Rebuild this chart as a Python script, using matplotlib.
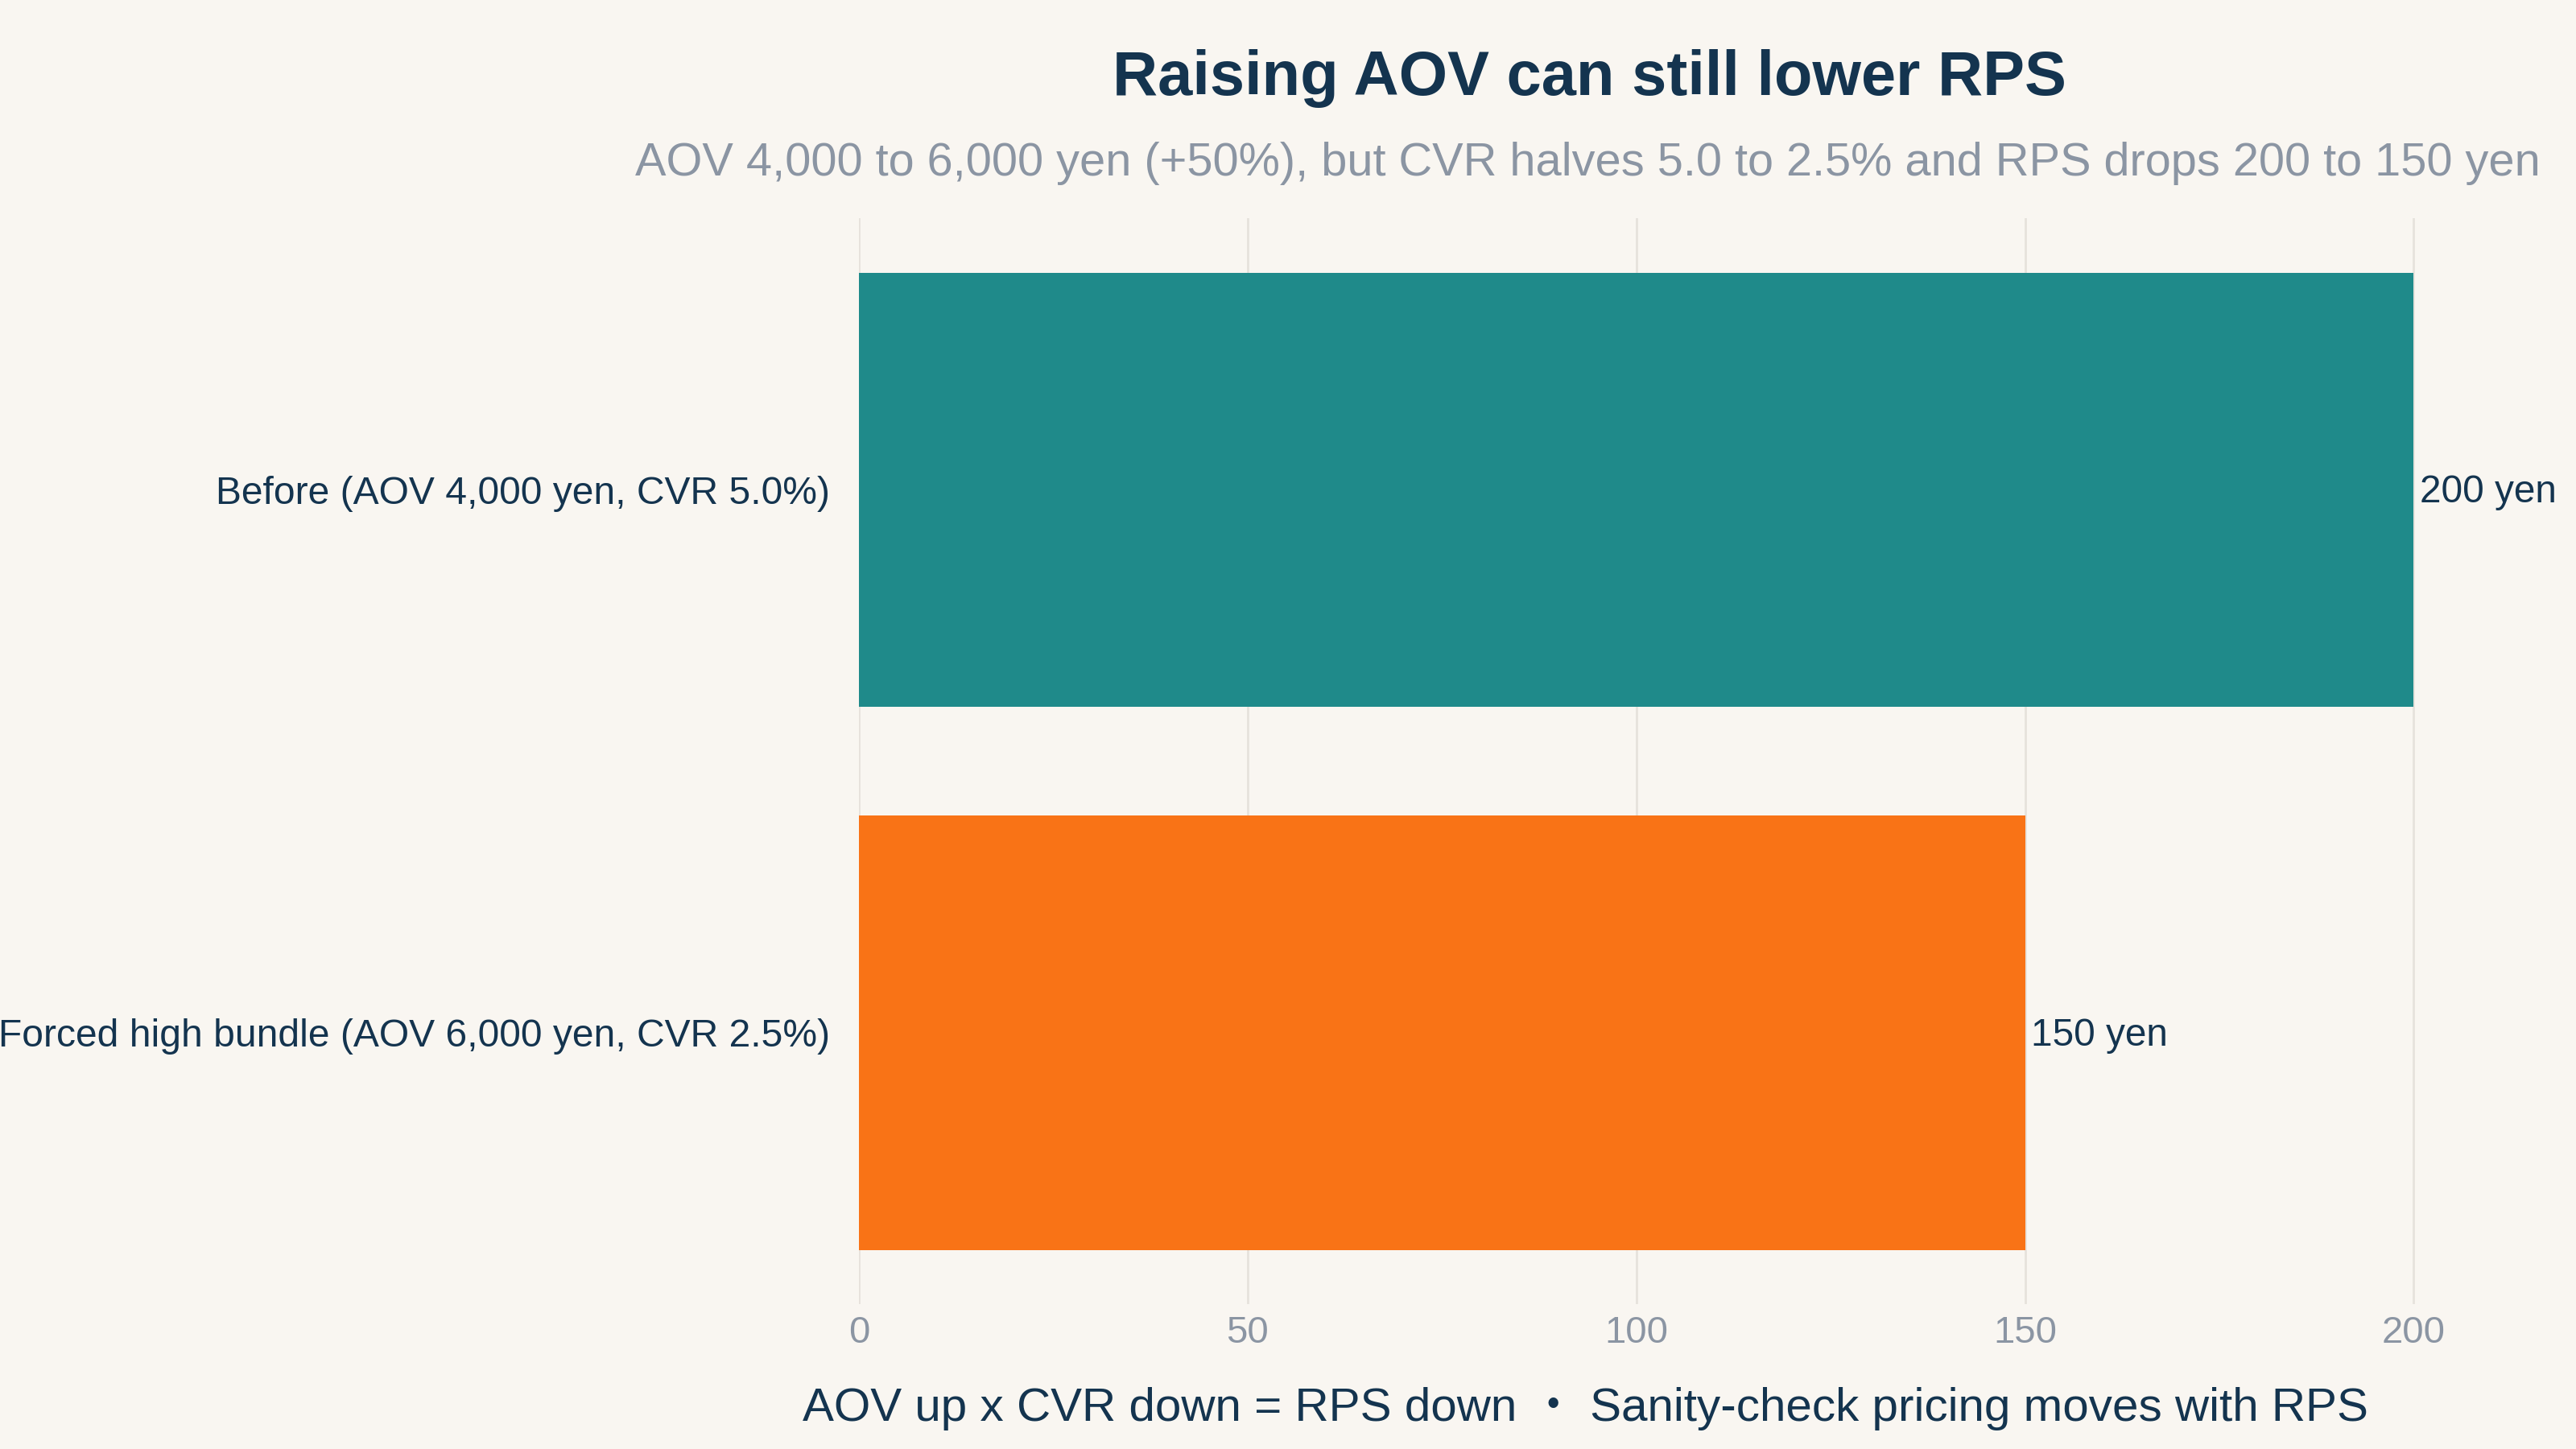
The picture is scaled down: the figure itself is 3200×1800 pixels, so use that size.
import matplotlib
matplotlib.use("Agg")
import matplotlib.pyplot as plt

categories = ["Before (AOV 4,000 yen, CVR 5.0%)",
              "Forced high bundle (AOV 6,000 yen, CVR 2.5%)"]
rps_values = [200, 150]
value_labels = ["200 yen", "150 yen"]
x_ticks = [0, 50, 100, 150, 200]

title = "Raising AOV can still lower RPS"
subtitle = "AOV 4,000 to 6,000 yen (+50%), but CVR halves 5.0 to 2.5% and RPS drops 200 to 150 yen"
footer = "AOV up x CVR down = RPS down \u30fb Sanity-check pricing moves with RPS"

BG = "#f9f6f1"
NAVY = "#14344f"
GRAY = "#8b95a3"
GRID = "#e6e2dc"
colors = ["#1f8a8a", "#f97316"]

plt.rcParams['font.family'] = ['Liberation Sans', 'Noto Sans CJK JP', 'DejaVu Sans']

fig = plt.figure(figsize=(16, 9), dpi=200, facecolor=BG)
ax = fig.add_axes([1067/3200, 0.1, (3095-1067)/3200, 0.7494])
ax.set_facecolor(BG)

ypos = list(range(len(categories)))
ax.barh(ypos, rps_values, height=0.8, color=colors, zorder=3)
for y, v, lab in zip(ypos, rps_values, value_labels):
    ax.text(v + 0.8, y + 0.005, lab, va='center', ha='left', fontsize=17.2, color=NAVY, zorder=4)

ax.set_xlim(0, 210)
ax.set_ylim(1.5, -0.5)
ax.set_yticks(ypos)
ax.set_yticklabels(categories, fontsize=17.3, color=NAVY)
ax.set_xticks(x_ticks)
ax.set_xticklabels([str(t) for t in x_ticks], fontsize=17, color=GRAY)
ax.tick_params(axis='both', length=0)
ax.tick_params(axis='y', pad=13)
ax.tick_params(axis='x', pad=5)
ax.grid(axis='x', color=GRID, linewidth=1.0, zorder=0)
for s in ax.spines.values():
    s.set_visible(False)

fig.text(0.617, 0.9344, title, ha='center', va='baseline', fontsize=28,
         fontweight='bold', color=NAVY)
fig.text(0.6165, 0.8789, subtitle, ha='center', va='baseline', fontsize=20.8, color=GRAY)
fig.text(0.6155, 0.0194, footer, ha='center', va='baseline', fontsize=21, color=NAVY)

fig.savefig("out.png", dpi=200, facecolor=BG)
